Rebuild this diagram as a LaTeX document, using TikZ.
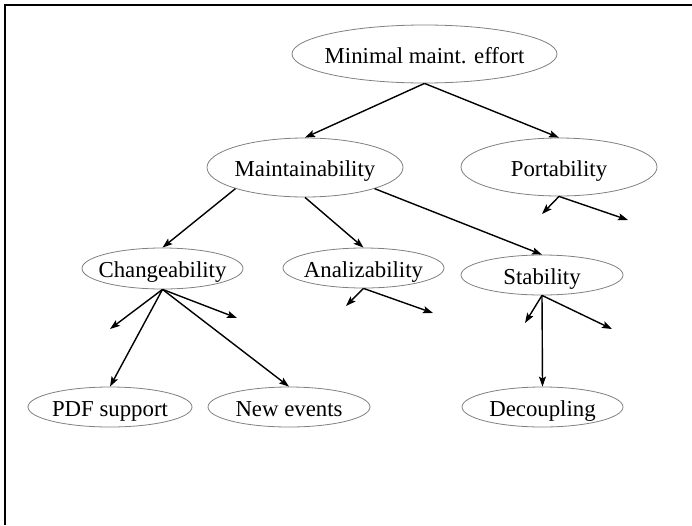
\documentclass[tikz,border=0pt]{standalone}
\usepackage{fontspec}
\setmainfont{Liberation Serif}
\usetikzlibrary{arrows.meta,shapes.geometric}
\definecolor{ellgray}{gray}{0.5}
\tikzset{
  ell/.style={ellipse, draw=ellgray, line width=0.8pt, inner sep=0pt},
  lbl/.style={font=\fontsize{22.8}{27}\selectfont, text height=18pt, text depth=0pt, inner sep=0pt},
  conn/.style={line width=1.4pt, -{Stealth[length=10pt,width=7pt,inset=2pt]}},
  frame/.style={line width=1.2pt}
}
\begin{document}
\begin{tikzpicture}[x=1pt,y=-1pt]
\useasboundingbox (0,0) rectangle (692,525);
\coordinate (fa) at (5,525);
\coordinate (fb) at (5,5);
\coordinate (fc) at (692,5);
\draw[frame] (fa) -- (fb) -- (fc);

\node[ell, minimum width=265pt, minimum height=58pt, label={[lbl]center:Minimal maint. effort}] (top) at (424.5,54) {};
\node[ell, minimum width=196pt, minimum height=59pt, label={[lbl]center:Maintainability}] (maint) at (305,167.5) {};
\node[ell, minimum width=196pt, minimum height=58pt, label={[lbl]center:Portability}] (port) at (559,167) {};
\node[ell, minimum width=161pt, minimum height=41pt, label={[lbl]center:Changeability}] (change) at (162.5,268.5) {};
\node[ell, minimum width=161pt, minimum height=40pt, label={[lbl]center:Analizability}] (anal) at (363.5,268) {};
\node[ell, minimum width=162pt, minimum height=40pt, label={[lbl]center:Stability}] (stab) at (542,275) {};
\node[ell, minimum width=164pt, minimum height=40pt, label={[lbl]center:PDF support}] (pdf) at (110,407) {};
\node[ell, minimum width=162pt, minimum height=40pt, label={[lbl]center:New events}] (newev) at (289,407) {};
\node[ell, minimum width=161pt, minimum height=40pt, label={[lbl]center:Decoupling}] (decoup) at (542.5,407) {};

\coordinate (p1) at (542,214);
\coordinate (p2) at (628,220);
\coordinate (a1) at (346,306);
\coordinate (a2) at (433,313);
\coordinate (c1) at (110,329);
\coordinate (c2) at (237,318);
\coordinate (s1) at (525,323);
\coordinate (s2) at (612,329);

\draw[conn] (top.south) -- (maint.north);
\draw[conn] (top.south) -- (port.north);
\draw[conn] (port.south) -- (p1);
\draw[conn] (port.south) -- (p2);
\draw[conn] (maint.south west) -- (change.north);
\draw[conn] (maint.south) -- (anal.north);
\draw[conn] (maint.south east) -- (stab.north);
\draw[conn] (anal.south) -- (a1);
\draw[conn] (anal.south) -- (a2);
\draw[conn] (change.south) -- (c1);
\draw[conn] (change.south) -- (c2);
\draw[conn] (change.south) -- (pdf.north);
\draw[conn] (change.south) -- (newev.north);
\draw[conn] (stab.south) -- (s1);
\draw[conn] (stab.south) -- (s2);
\draw[conn] (stab.south) -- (decoup.north);
\end{tikzpicture}
\end{document}
